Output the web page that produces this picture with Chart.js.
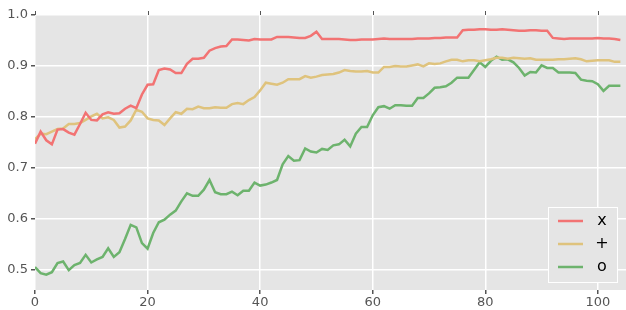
<!DOCTYPE html>
<html>
<head>
<meta charset="utf-8">
<script src="https://cdn.jsdelivr.net/npm/chart.js@4/dist/chart.umd.min.js"></script>
<style>
  html, body { margin: 0; padding: 0; background: #fff; }
  #wrap { width: 626px; height: 310px; }
</style>
</head>
<body>
<div id="wrap"><canvas id="lineChart" width="626" height="310"></canvas></div>
<script>
// ========================== DATA ==============================
const seriesNames = ['x', '+', 'o'];

const redValues = [
  0.747, 0.771, 0.754, 0.746, 0.775, 0.776, 0.769, 0.765, 0.786, 0.808,
  0.794, 0.793, 0.805, 0.809, 0.806, 0.807, 0.816, 0.822, 0.817, 0.844,
  0.863, 0.864, 0.892, 0.895, 0.893, 0.886, 0.886, 0.904, 0.914, 0.914,
  0.916, 0.930, 0.935, 0.938, 0.939, 0.952, 0.952, 0.951, 0.950, 0.953,
  0.952, 0.952, 0.952, 0.957, 0.957, 0.957, 0.956, 0.955, 0.955, 0.959,
  0.967, 0.953, 0.953, 0.953, 0.953, 0.952, 0.951, 0.951, 0.952, 0.952,
  0.952, 0.953, 0.954, 0.953, 0.953, 0.953, 0.953, 0.953, 0.954, 0.954,
  0.954, 0.955, 0.955, 0.956, 0.956, 0.956, 0.970, 0.971, 0.971, 0.972,
  0.972, 0.971, 0.971, 0.972, 0.971, 0.970, 0.969, 0.969, 0.970, 0.970,
  0.969, 0.969, 0.955, 0.954, 0.953, 0.954, 0.954, 0.954, 0.954, 0.954,
  0.955, 0.954, 0.954, 0.953, 0.951
];

const yellowValues = [
  0.756, 0.767, 0.766, 0.771, 0.776, 0.777, 0.786, 0.786, 0.788, 0.794,
  0.801, 0.806, 0.797, 0.799, 0.794, 0.779, 0.781, 0.793, 0.814, 0.810,
  0.797, 0.794, 0.793, 0.784, 0.797, 0.809, 0.806, 0.816, 0.815, 0.820,
  0.817, 0.817, 0.819, 0.818, 0.818, 0.825, 0.827, 0.825, 0.833, 0.839,
  0.852, 0.867, 0.865, 0.863, 0.867, 0.874, 0.874, 0.874, 0.880, 0.877,
  0.879, 0.882, 0.883, 0.884, 0.887, 0.892, 0.890, 0.889, 0.889, 0.890,
  0.887, 0.887, 0.898, 0.898, 0.900, 0.899, 0.899, 0.901, 0.903, 0.899,
  0.905, 0.904, 0.905, 0.909, 0.912, 0.912, 0.909, 0.911, 0.911, 0.909,
  0.911, 0.913, 0.916, 0.916, 0.914, 0.916, 0.915, 0.914, 0.915, 0.912,
  0.912, 0.912, 0.912, 0.913, 0.913, 0.914, 0.915, 0.913, 0.909, 0.910,
  0.911, 0.911, 0.911, 0.908, 0.908
];

const greenValues = [
  0.505, 0.493, 0.490, 0.495, 0.513, 0.516, 0.499, 0.509, 0.513, 0.529,
  0.514, 0.520, 0.525, 0.542, 0.525, 0.534, 0.560, 0.588, 0.583, 0.552,
  0.541, 0.572, 0.593, 0.598, 0.608, 0.616, 0.634, 0.650, 0.645, 0.645,
  0.657, 0.676, 0.652, 0.648, 0.648, 0.653, 0.646, 0.655, 0.655, 0.671,
  0.665, 0.667, 0.671, 0.676, 0.707, 0.723, 0.714, 0.715, 0.738, 0.732,
  0.730, 0.737, 0.735, 0.744, 0.746, 0.755, 0.742, 0.767, 0.780, 0.780,
  0.803, 0.819, 0.821, 0.816, 0.823, 0.823, 0.822, 0.822, 0.837, 0.837,
  0.846, 0.857, 0.858, 0.860, 0.867, 0.877, 0.877, 0.877, 0.892, 0.907,
  0.898, 0.910, 0.918, 0.912, 0.913, 0.907, 0.896, 0.881, 0.888, 0.887,
  0.901, 0.896, 0.896, 0.887, 0.887, 0.887, 0.886, 0.873, 0.871, 0.870,
  0.864, 0.851, 0.861, 0.861, 0.861
];

const xTicks = [0, 20, 40, 60, 80, 100];
const yTicks = [0.5, 0.6, 0.7, 0.8, 0.9, 1.0];

// ========================== HELPERS ===========================
const toPoints = vals => vals.map((v, i) => ({ x: i, y: v }));
const lineColors = ['#f27373', '#dfc37d', '#6db36d'];

// gray panel behind the plot
const panelBg = {
  id: 'panelBg',
  beforeDraw(chart) {
    const { ctx, chartArea: a } = chart;
    ctx.save();
    ctx.fillStyle = '#e5e5e5';
    ctx.fillRect(a.left, a.top, a.right - a.left, a.bottom - a.top);
    ctx.restore();
  }
};

// small tick marks on the top edge, like the mirrored matplotlib ticks
const topTicks = {
  id: 'topTicks',
  afterDraw(chart) {
    const { ctx, chartArea: a, scales } = chart;
    ctx.save();
    ctx.strokeStyle = '#555';
    ctx.lineWidth = 1;
    xTicks.forEach(v => {
      const px = Math.round(scales.x.getPixelForValue(v)) + 0.5;
      ctx.beginPath();
      ctx.moveTo(px, a.top - 4);
      ctx.lineTo(px, a.top);
      ctx.stroke();
    });
    ctx.restore();
  }
};

// legend box in the lower right corner of the plot
const cornerLegend = {
  id: 'cornerLegend',
  afterDatasetsDraw(chart) {
    const { ctx, chartArea: a } = chart;
    const w = 70, h = 76;
    const x0 = a.right - 8 - w, y0 = a.bottom - 7 - h;
    ctx.save();
    ctx.fillStyle = '#e5e5e5';
    ctx.fillRect(x0, y0, w, h);
    ctx.strokeStyle = '#ffffff';
    ctx.lineWidth = 1;
    ctx.strokeRect(x0 + 0.5, y0 + 0.5, w - 1, h - 1);
    chart.data.datasets.forEach((ds, i) => {
      const y = y0 + 14 + i * 23;
      ctx.strokeStyle = ds.borderColor;
      ctx.lineWidth = 2.5;
      ctx.beginPath();
      ctx.moveTo(x0 + 10, y);
      ctx.lineTo(x0 + 35, y);
      ctx.stroke();
      ctx.fillStyle = '#000';
      ctx.font = '16px "DejaVu Sans"';
      ctx.textAlign = 'center';
      ctx.textBaseline = 'middle';
      ctx.fillText(ds.label, x0 + 54, y);
    });
    ctx.restore();
  }
};

// ========================== CHART =============================
new Chart(document.getElementById('lineChart'), {
  type: 'line',
  data: {
    datasets: [redValues, yellowValues, greenValues].map((vals, i) => ({
      label: seriesNames[i],
      data: toPoints(vals),
      borderColor: lineColors[i],
      borderWidth: 2.5,
      pointRadius: 0,
      fill: false,
      tension: 0
    }))
  },
  options: {
    responsive: false,
    animation: false,
    layout: { padding: { top: 15, right: 0, left: 0, bottom: 0 } },
    plugins: {
      legend: { display: false },
      tooltip: { enabled: false }
    },
    scales: {
      x: {
        type: 'linear',
        min: 0,
        max: 105,
        afterFit: s => { s.height = 20; s.paddingLeft = 0; s.paddingRight = 0; },
        afterBuildTicks: s => { s.ticks = xTicks.map(v => ({ value: v })); },
        grid: { color: '#ffffff', lineWidth: 1.5, tickColor: '#555', tickLength: 4 },
        border: { display: false },
        ticks: {
          color: '#555',
          font: { family: 'DejaVu Sans', size: 13 },
          padding: 1,
          maxRotation: 0
        }
      },
      y: {
        min: 0.46,
        max: 1.0,
        afterFit: s => { s.width = 35; },
        afterBuildTicks: s => { s.ticks = yTicks.map(v => ({ value: v })); },
        grid: { color: '#ffffff', lineWidth: 1.5, tickColor: '#555', tickLength: 4 },
        border: { display: false },
        ticks: {
          color: '#555',
          font: { family: 'DejaVu Sans', size: 13 },
          padding: 3,
          callback: v => v.toFixed(1)
        }
      }
    }
  },
  plugins: [panelBg, topTicks, cornerLegend]
});
</script>
</body>
</html>
